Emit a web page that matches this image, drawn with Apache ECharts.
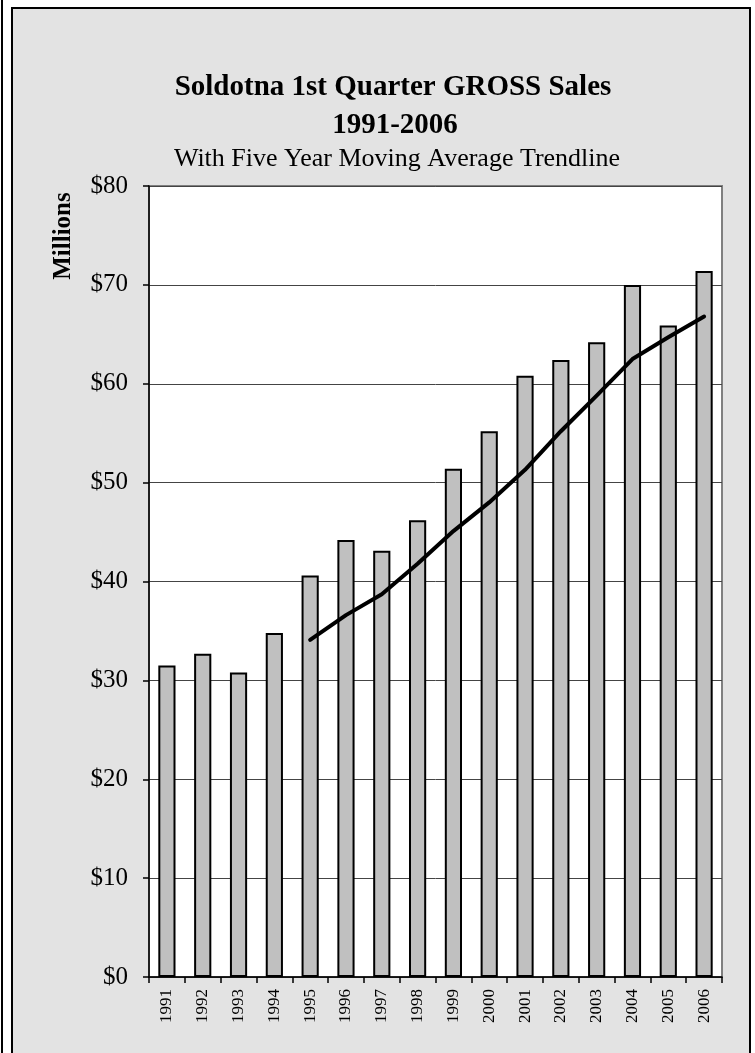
<!DOCTYPE html>
<html>
<head>
<meta charset="utf-8">
<script src="https://cdn.jsdelivr.net/npm/echarts@6/dist/echarts.min.js"></script>
<style>
  html, body { margin: 0; padding: 0; background: #fff; }
  #chart { width: 755px; height: 1053px; }
</style>
</head>
<body>
<div id="chart"></div>
<script>
const years = ['1991', '1992', '1993', '1994', '1995', '1996', '1997', '1998',
  '1999', '2000', '2001', '2002', '2003', '2004', '2005', '2006'];
const grossSales = [31.5, 32.7, 30.8, 34.8, 40.6, 44.2, 43.1, 46.2,
  51.4, 55.2, 60.8, 62.4, 64.2, 70.0, 65.9, 71.4];
const movingAvg = ['-', '-', '-', '-', 34.1, 36.6, 38.7, 41.8,
  45.1, 48.0, 51.3, 55.2, 58.8, 62.5, 64.7, 66.8];
const yTicks = [0, 80, 10];

const serif = '"Liberation Serif", "Times New Roman", serif';
const chart = echarts.init(document.getElementById('chart'));

chart.setOption({
  animation: false,
  backgroundColor: '#fff',
  graphic: [
    { type: 'line', shape: { x1: 2, y1: 0, x2: 2, y2: 1053 }, style: { stroke: '#000', lineWidth: 2 }, z: -10 },
    { type: 'rect', shape: { x: 12, y: 8, width: 738, height: 1060 },
      style: { fill: '#e3e3e3', stroke: '#000', lineWidth: 2 }, z: -10 },
    {
      type: 'text', x: 64, y: 236, rotation: Math.PI / 2,
      style: { text: 'Millions', font: 'bold 25px ' + serif, fill: '#000', align: 'center', verticalAlign: 'middle' },
    },
  ],
  title: [
    { text: 'Soldotna 1st Quarter GROSS Sales', left: 388, top: 68, textAlign: 'center',
      textStyle: { fontFamily: serif, fontSize: 29, fontWeight: 'bold', color: '#000' } },
    { text: '1991-2006', left: 390, top: 106, textAlign: 'center',
      textStyle: { fontFamily: serif, fontSize: 29, fontWeight: 'bold', color: '#000' } },
    { text: 'With Five Year Moving Average Trendline', left: 392, top: 141, textAlign: 'center',
      textStyle: { fontFamily: serif, fontSize: 26, fontWeight: 'normal', color: '#000' } },
  ],
  grid: {
    left: 149, top: 186, right: 33, bottom: 76,
    show: true, backgroundColor: '#fff', borderColor: '#808080', borderWidth: 2,
  },
  xAxis: {
    type: 'category',
    data: years,
    axisLine: { lineStyle: { color: '#000', width: 1.5 } },
    axisTick: { show: true, length: 6, lineStyle: { color: '#000', width: 1.5 } },
    axisLabel: { rotate: 90, margin: 12, fontFamily: serif, fontSize: 17, color: '#000' },
  },
  yAxis: {
    type: 'value',
    min: yTicks[0], max: yTicks[1], interval: yTicks[2],
    axisLine: { show: true, lineStyle: { color: '#000', width: 1.5 } },
    axisTick: { show: true, length: 6, lineStyle: { color: '#000', width: 1.5 } },
    splitLine: { lineStyle: { color: '#444', width: 1 } },
    axisLabel: { margin: 21, fontFamily: serif, fontSize: 25, color: '#000', formatter: v => '$' + v },
  },
  series: [
    {
      name: 'Gross Sales', type: 'bar', data: grossSales,
      barWidth: '48%',
      itemStyle: { color: '#c0c0c0', borderColor: '#000', borderWidth: 2 },
    },
    {
      name: 'Five Year Moving Average', type: 'line', data: movingAvg,
      showSymbol: false, symbol: 'none',
      lineStyle: { color: '#000', width: 4, cap: 'round', join: 'round' },
      z: 5,
    },
  ],
});
</script>
</body>
</html>
